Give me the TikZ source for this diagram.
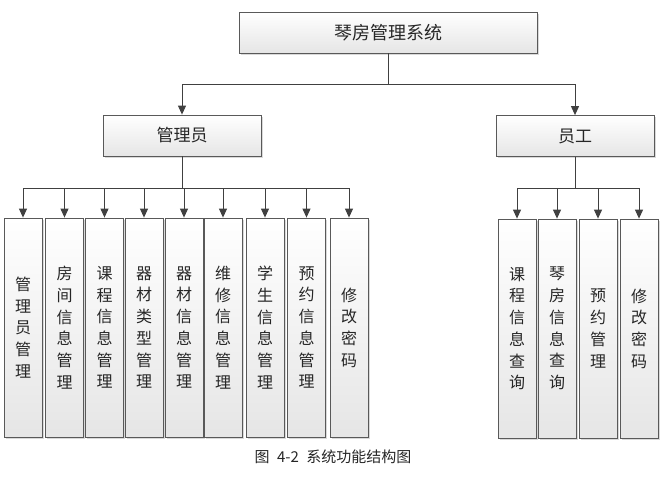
\documentclass[tikz,border=0pt]{standalone}
\usepackage{fontspec}
\setmainfont{Noto Sans CJK SC}
\usetikzlibrary{arrows.meta,shadows}
\tikzset{
  box/.style={draw=black!65, line width=0.8pt, top color=white, bottom color=black!10,
    drop shadow={shadow xshift=1.5pt, shadow yshift=-1.5pt, opacity=0.3}, text=black!85},
  head/.style={box, minimum width=158pt, minimum height=41pt, font=\fontsize{17}{17}\selectfont},
  col/.style={box, minimum width=38pt, minimum height=219pt, align=center,
    font=\fontsize{16}{21.7}\selectfont},
  arr/.style={draw=black!75, line width=1pt, -{Triangle[length=9pt,width=8pt]}}
}
\begin{document}
\begin{tikzpicture}[x=1pt,y=-1pt]
  \useasboundingbox (0,0) rectangle (666,480);
  % top level
  \node[head, minimum width=298pt, font=\fontsize{18}{18}\selectfont] (sys) at (388,32.5) {琴房管理系统};
  \node[head] (admin) at (182,135.5) {管理员};
  \node[head] (staff) at (575,136) {员工};
  \coordinate (top) at (0,84);
  \draw[arr] (sys.south) -- (sys.south |- top) -| (admin.north);
  \draw[arr] (sys.south) -- (sys.south |- top) -| (staff.north);
  % admin functions
  \coordinate (abus) at (0,188);
  \foreach \i/\x/\t in {1/23/{管\\理\\员\\管\\理}, 2/64.5/{房\\间\\信\\息\\管\\理},
      3/104.5/{课\\程\\信\\息\\管\\理}, 4/144/{器\\材\\类\\型\\管\\理},
      5/184/{器\\材\\信\\息\\管\\理}, 6/223/{维\\修\\信\\息\\管\\理},
      7/265/{学\\生\\信\\息\\管\\理}, 8/306.5/{预\\约\\信\\息\\管\\理},
      9/349/{修\\改\\密\\码}} {
    \node[col] (a\i) at (\x,327.5) {\t};
    \draw[arr] (admin.south) -- (admin.south |- abus) -| (a\i.north);
  }
  % staff functions
  \foreach \i/\x/\t in {1/517/{课\\程\\信\\息\\查\\询}, 2/557/{琴\\房\\信\\息\\查\\询},
      3/598/{预\\约\\管\\理}, 4/639/{修\\改\\密\\码}} {
    \node[col] (s\i) at (\x,328.5) {\t};
    \draw[arr] (staff.south) -- (staff.south |- abus) -| (s\i.north);
  }
  \node[font=\fontsize{15}{15}\selectfont, text=black!85] (cap) at (333,457)
    {图\hspace{0.5em}4-2\hspace{0.5em}系统功能结构图};
\end{tikzpicture}
\end{document}
